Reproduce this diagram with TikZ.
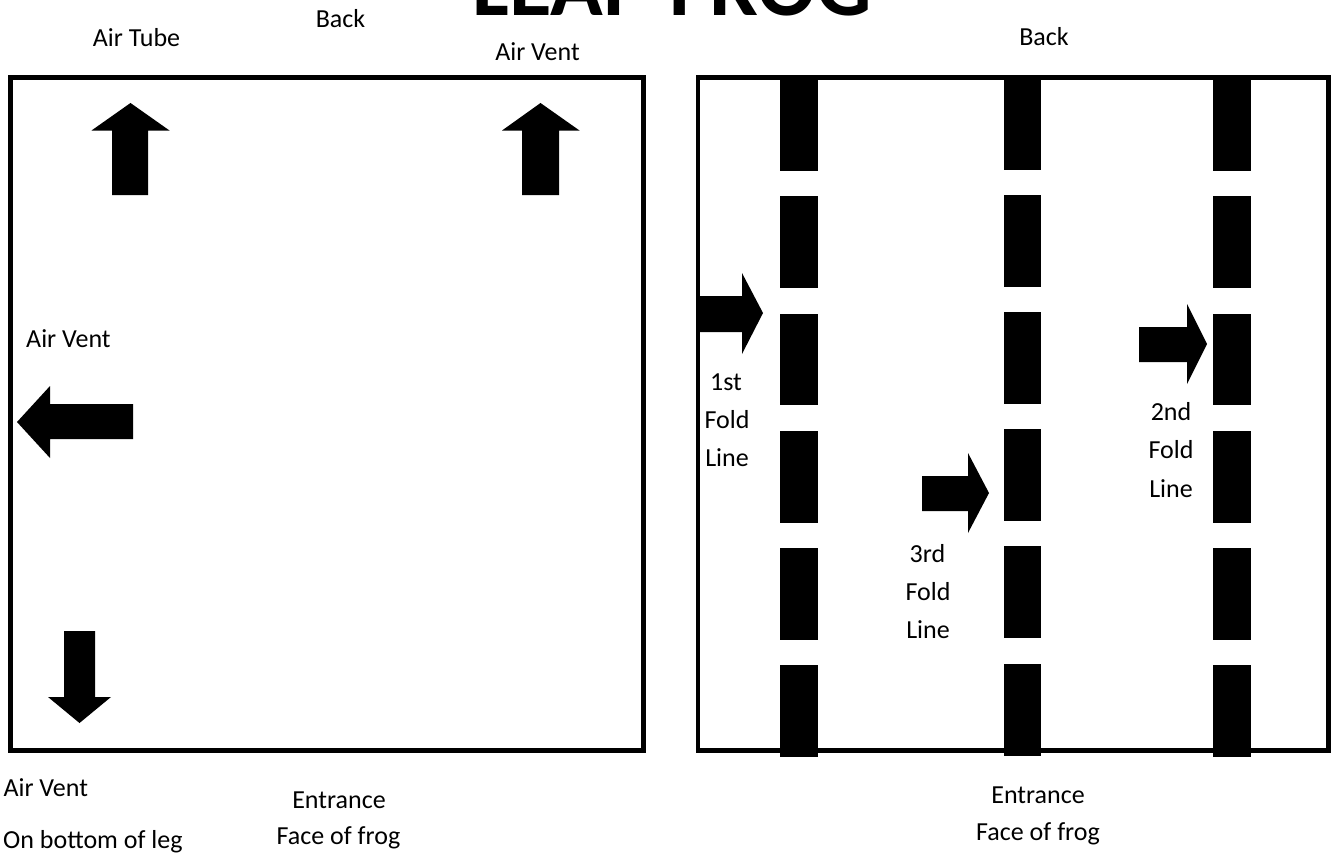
\documentclass[tikz,border=0pt]{standalone}
\usepackage{fontspec}
\setmainfont{Carlito}
\begin{document}
\begin{tikzpicture}[x=1pt,y=-1pt,
  lbl/.style={font=\fontsize{26}{30}\selectfont, inner sep=0pt, anchor=base},
  lblw/.style={lbl, anchor=base west},
  frame/.style={draw=black, line width=4.5pt},
  bar/.style={fill=black},
  blockarrow/.style={fill=black}]
\useasboundingbox (0,0) rectangle (1332,856);
\fill[white] (0,0) rectangle (1332,856);

% Title
\node[inner sep=0pt, anchor=base, font=\fontsize{87}{90}\selectfont\bfseries] (title) at (672,16) {LEAP FROG};

% Frames
\draw[frame] (10.5,77.5) rectangle (643.5,750.5);
\draw[frame] (698,77.5) rectangle (1328.5,750.5);

% Fold lines (dashes)
\foreach \a/\b in {76/171,196/288,314/405,431/523,548/640,665/757}{
  \fill[bar] (780,\a) rectangle (818,\b);
  \fill[bar] (1213,\a) rectangle (1251,\b);
}
\foreach \a/\b in {76/170,195/287,312/404,429/521,546/638,664/756}{
  \fill[bar] (1004,\a) rectangle (1041,\b);
}

% Left panel block arrows
\fill[blockarrow] (112,195) -- (112,130.5) -- (91.5,130.5) -- (130.5,103) -- (169.5,130.5) -- (148,130.5) -- (148,195) -- cycle;
\fill[blockarrow] (522,195) -- (522,130.5) -- (502,130.5) -- (540.5,103) -- (579.5,130.5) -- (559,130.5) -- (559,195) -- cycle;
\fill[blockarrow] (133,404) -- (50,404) -- (50,386) -- (17,422) -- (50,458) -- (50,439) -- (133,439) -- cycle;
\fill[blockarrow] (64,631) -- (95,631) -- (95,697) -- (111,697) -- (79.5,723) -- (48,697) -- (64,697) -- cycle;

% Right panel block arrows
\fill[blockarrow] (696,296) -- (742,296) -- (742,273) -- (763,313) -- (742,354) -- (742,332) -- (696,332) -- cycle;
\fill[blockarrow] (922,476) -- (968,476) -- (968,453) -- (989,493) -- (968,533) -- (968,511) -- (922,511) -- cycle;
\fill[blockarrow] (1139,327) -- (1187,327) -- (1187,304) -- (1207,344) -- (1187,384) -- (1187,362) -- (1139,362) -- cycle;

% Labels, left panel
\node[lbl] (airtube) at (136.5,46.5) {Air Tube};
\node[lbl] (backL) at (340.5,28) {Back};
\node[lbl] (ventTop) at (537.5,61) {Air Vent};
\node[lblw] (ventLeft) at (26,347) {Air Vent};
\node[lblw] (ventBottom) at (3.3,796) {Air Vent};
\node[lblw] (legnote) at (3,848) {On bottom of leg};
\node[lbl] (entrL) at (339,808) {Entrance};
\node[lbl] (faceL) at (338.5,844) {Face of frog};

% Labels, right panel
\node[lbl] (backR) at (1044,46) {Back};
\node[lbl] (entrR) at (1038,803) {Entrance};
\node[lbl] (faceR) at (1038,840) {Face of frog};

\node[lbl] (f1a) at (726,390) {1st};
\node[lbl] (f1b) at (727,428) {Fold};
\node[lbl] (f1c) at (727,466) {Line};

\node[lbl] (f2a) at (1171,420.7) {2nd};
\node[lbl] (f2b) at (1171,458.5) {Fold};
\node[lbl] (f2c) at (1171,497.7) {Line};

\node[lbl] (f3a) at (927.5,562.3) {3rd};
\node[lbl] (f3b) at (928,600) {Fold};
\node[lbl] (f3c) at (928,638.3) {Line};
\end{tikzpicture}
\end{document}
